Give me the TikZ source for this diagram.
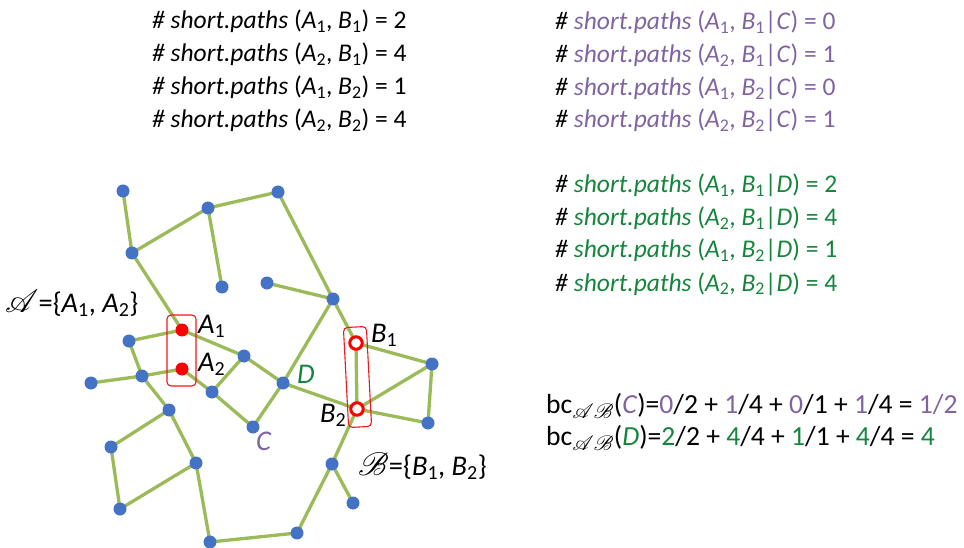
\documentclass[tikz,border=0pt]{standalone}
\usepackage{fontspec}
\usepackage{mathrsfs}
\usepackage{graphicx}
\setmainfont{Carlito}
\definecolor{nodeblue}{HTML}{4472C4}
\definecolor{edgegreen}{HTML}{9BBB59}
\definecolor{txtpurple}{HTML}{8064A2}
\definecolor{txtgreen}{HTML}{15853D}
\definecolor{boxred}{HTML}{F01818}
\pgfdeclarelayer{bg}
\pgfsetlayers{bg,main}
\newcommand{\Ai}[1]{\textit{A}\textsubscript{#1}}
\newcommand{\Bi}[1]{\textit{B}\textsubscript{#1}}
\newcommand{\bigscr}[1]{\scalebox{1.3}{$\mathscr{#1}$}}
\tikzset{
  bnode/.style={circle,fill=nodeblue,inner sep=0pt,minimum size=13pt},
  anode/.style={circle,fill=red,inner sep=0pt,minimum size=13pt},
  onode/.style={circle,draw=red,fill=white,line width=3pt,inner sep=0pt,minimum size=12.5pt},
  edge/.style={draw=edgegreen,line width=3.3pt},
  selbox/.style={draw=boxred,line width=1.1pt,rounded corners=4pt,rectangle,inner sep=0pt},
  toptxt/.style={anchor=base west,inner sep=0pt,font=\fontsize{25.5}{30}\selectfont},
  lbl/.style={anchor=base west,inner sep=0pt,font=\fontsize{28.5}{32}\selectfont},
  bctxt/.style={anchor=base west,inner sep=0pt,font=\fontsize{27.6}{32}\selectfont}
}
\begin{document}
\begin{tikzpicture}[x=1pt,y=-1pt]
\useasboundingbox (0,0) rectangle (964,548);
% nodes
\node[bnode] (n1) at (123,191) {};
\node[bnode] (n2) at (208,208) {};
\node[bnode] (n3) at (278,192) {};
\node[bnode] (n4) at (132,253) {};
\node[bnode] (n5) at (222,287) {};
\node[bnode] (n6) at (267,283) {};
\node[anode] (A1) at (182,330) {};
\node[bnode] (n7) at (129,341) {};
\node[anode] (A2) at (182,369) {};
\node[bnode] (n8) at (244,356) {};
\node[bnode] (n9) at (142,376) {};
\node[bnode] (n10) at (91,383) {};
\node[bnode] (n11) at (212,392) {};
\node[bnode] (D) at (283,383) {};
\node[bnode] (n12) at (169,410) {};
\node[bnode] (C) at (253,427) {};
\node[bnode] (n13) at (111,447) {};
\node[bnode] (n14) at (196,463) {};
\node[bnode] (n15) at (120,509) {};
\node[bnode] (n16) at (210,542) {};
\node[bnode] (n17) at (297,533) {};
\node[bnode] (n18) at (333,299) {};
\node[onode] (B1) at (356,343) {};
\node[bnode] (n19) at (432,364) {};
\node[onode] (B2) at (357,409) {};
\node[bnode] (n20) at (428,423) {};
\node[bnode] (n21) at (332,464) {};
\node[bnode] (n22) at (353,503) {};
% edges
\begin{pgfonlayer}{bg}
\path[edge] (n1.center) -- (n4.center) -- (n2.center) -- (n3.center) -- (n18.center);
\path[edge] (n2.center) -- (n5.center);
\path[edge] (n6.center) -- (n18.center) -- (D.center);
\path[edge] (n18.center) -- (B1.center);
\path[edge] (n4.center) -- (A1.center) -- (n8.center) -- (D.center) -- (B2.center);
\path[edge] (A1.center) -- (n7.center) -- (n9.center) -- (n10.center);
\path[edge] (n9.center) -- (A2.center) -- (n11.center) -- (n8.center);
\path[edge] (n11.center) -- (C.center) -- (D.center);
\path[edge] (n9.center) -- (n12.center) -- (n13.center) -- (n15.center) -- (n14.center) -- (n12.center);
\path[edge] (n14.center) -- (n16.center) -- (n17.center) -- (n21.center) -- (B2.center);
\path[edge] (n21.center) -- (n22.center);
\path[edge] (B1.center) -- (B2.center) -- (n19.center) -- (B1.center);
\path[edge] (B2.center) -- (n20.center) -- (n19.center);
\end{pgfonlayer}
% selection boxes
\node[selbox,minimum width=29pt,minimum height=71pt] (boxA) at (181.5,350.5) {};
\node[selbox,minimum width=23pt,minimum height=100pt,rotate=3] (boxB) at (357.5,377) {};
% node labels
\node[lbl] (lA1) at (198,333) {\Ai{1}};
\node[lbl] (lA2) at (198,371) {\Ai{2}};
\node[lbl] (lB1) at (371,342) {\Bi{1}};
\node[lbl] (lB2) at (320,422) {\Bi{2}};
\node[lbl,text=txtgreen] (lD) at (297,383) {\textit{D}};
\node[lbl,text=txtpurple] (lC) at (256,450) {\textit{C}};
\node[lbl] (setA) at (5,312) {\bigscr{A}=\{\Ai{1}, \Ai{2}\}};
\node[lbl] (setB) at (358,475) {\bigscr{B}=\{\Bi{1}, \Bi{2}\}};
% top-left text
\node[toptxt] (t1) at (152,29) {\textit{\# short.paths} (\Ai{1}, \Bi{1}) = 2};
\node[toptxt] (t2) at (152,62) {\textit{\# short.paths} (\Ai{2}, \Bi{1}) = 4};
\node[toptxt] (t3) at (152,95) {\textit{\# short.paths} (\Ai{1}, \Bi{2}) = 1};
\node[toptxt] (t4) at (152,128) {\textit{\# short.paths} (\Ai{2}, \Bi{2}) = 4};
% purple block
\node[toptxt] (p1) at (555,30) {\textit{\#} \textcolor{txtpurple}{\textit{short.paths} (\Ai{1}, \Bi{1}|\textit{C}) = 0}};
\node[toptxt] (p2) at (555,63) {\textit{\#} \textcolor{txtpurple}{\textit{short.paths} (\Ai{2}, \Bi{1}|\textit{C}) = 1}};
\node[toptxt] (p3) at (555,96) {\textit{\#} \textcolor{txtpurple}{\textit{short.paths} (\Ai{1}, \Bi{2}|\textit{C}) = 0}};
\node[toptxt] (p4) at (555,128) {\textit{\#} \textcolor{txtpurple}{\textit{short.paths} (\Ai{2}, \Bi{2}|\textit{C}) = 1}};
% green block
\node[toptxt] (g1) at (555,193) {\textit{\#} \textcolor{txtgreen}{\textit{short.paths} (\Ai{1}, \Bi{1}|\textit{D}) = 2}};
\node[toptxt] (g2) at (555,226) {\textit{\#} \textcolor{txtgreen}{\textit{short.paths} (\Ai{2}, \Bi{1}|\textit{D}) = 4}};
\node[toptxt] (g3) at (555,258) {\textit{\#} \textcolor{txtgreen}{\textit{short.paths} (\Ai{1}, \Bi{2}|\textit{D}) = 1}};
\node[toptxt] (g4) at (555,291) {\textit{\#} \textcolor{txtgreen}{\textit{short.paths} (\Ai{2}, \Bi{2}|\textit{D}) = 4}};
% bc formulas
\node[bctxt] (bc1) at (546,413) {bc\textsubscript{$\mathscr{A}\mathscr{B}$}(\textcolor{txtpurple}{\textit{C}})=\textcolor{txtpurple}{0}/2 + \textcolor{txtpurple}{1}/4 + \textcolor{txtpurple}{0}/1 + \textcolor{txtpurple}{1}/4 = \textcolor{txtpurple}{1/2}};
\node[bctxt] (bc2) at (546,445) {bc\textsubscript{$\mathscr{A}\mathscr{B}$}(\textcolor{txtgreen}{\textit{D}})=\textcolor{txtgreen}{2}/2 + \textcolor{txtgreen}{4}/4 + \textcolor{txtgreen}{1}/1 + \textcolor{txtgreen}{4}/4 = \textcolor{txtgreen}{4}};
\end{tikzpicture}
\end{document}
